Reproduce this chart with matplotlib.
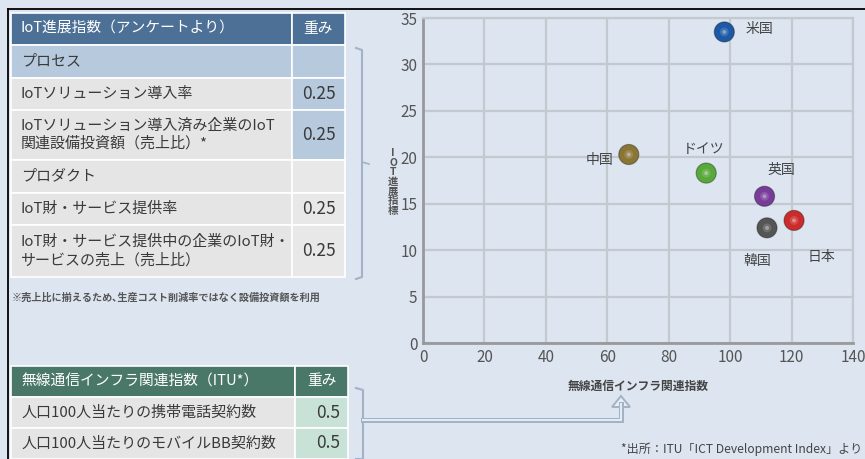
import matplotlib
matplotlib.use("Agg")
import matplotlib.pyplot as plt
from matplotlib.patches import Rectangle, Polygon

plt.rcParams["font.family"] = ["Noto Sans CJK JP", "DejaVu Sans"]

# ── data ────────────────────────────────────────────────────────────
countries = ["米国", "中国", "ドイツ", "英国", "韓国", "日本"]
infra_index = [98.1, 67.0, 92.2, 111.2, 112.0, 120.8]
iot_index = [33.5, 20.3, 18.3, 15.8, 12.4, 13.2]
dot_colors = ["#1d5aa6", "#8a7534", "#58a83a", "#773d98", "#555555", "#cc2b2b"]
# label offsets (points) from each dot
label_dx = [25, -21, -2, 12, -7, 20]
label_dy = [2, -4, 17, 19, -24, -26]

x_ticks = [0, 20, 40, 60, 80, 100, 120, 140]
y_ticks = [0, 5, 10, 15, 20, 25, 30, 35]

iot_header = ["IoT進展指数（アンケートより）", "重み"]
iot_rows = ["プロセス",
            "IoTソリューション導入率",
            "IoTソリューション導入済み企業のIoT\n関連設備投資額（売上比）*",
            "プロダクト",
            "IoT財・サービス提供率",
            "IoT財・サービス提供中の企業のIoT財・\nサービスの売上（売上比）"]
iot_weights = ["", "0.25", "0.25", "", "0.25", "0.25"]

itu_header = ["無線通信インフラ関連指数（ITU*）", "重み"]
itu_rows = ["人口100人当たりの携帯電話契約数",
            "人口100人当たりのモバイルBB契約数"]
itu_weights = ["0.5", "0.5"]

note = "※売上比に揃えるため､生産コスト削減率ではなく設備投資額を利用"
source = "*出所：ITU「ICT Development Index」より"

W, H = 865, 459
BG = "#dce5f0"
TXT = "#3a3a3a"
fig = plt.figure(figsize=(W / 100, H / 100), dpi=100, facecolor=BG)

# overlay in pixel coords for the tables / brackets
bg = fig.add_axes([0, 0, 1, 1])
bg.set_xlim(0, W)
bg.set_ylim(H, 0)
bg.axis("off")

# black frame
bg.plot([8, W], [9, 9], color="black", lw=1.3)
bg.plot([8, 8], [9, H], color="black", lw=1.3)


def cell(x0, x1, y0, y1, fc):
    bg.add_patch(Rectangle((x0, y0), x1 - x0, y1 - y0, facecolor=fc,
                           edgecolor="white", lw=1.2))


# ── IoT table ──
c0, c1, c2 = 11, 292, 345
row_y = [13, 45, 78, 110, 160, 193, 225, 277]
cell(c0, c1, row_y[0], row_y[1], "#4d7196")
cell(c1, c2, row_y[0], row_y[1], "#4d7196")
bg.text(c0 + 10, (row_y[0] + row_y[1]) / 2, iot_header[0], color="white",
        fontsize=10.6, va="center", ha="left")
bg.text((c1 + c2) / 2, (row_y[0] + row_y[1]) / 2, iot_header[1], color="white",
        fontsize=10.6, va="center", ha="center")
for i, (name, w) in enumerate(zip(iot_rows, iot_weights)):
    y0, y1 = row_y[i + 1], row_y[i + 2]
    if i < 3:
        name_fc = "#b6c9dd" if i == 0 else "#e5e5e5"
        w_fc = "#b6c9dd"
    else:
        name_fc = "#e5e5e5"
        w_fc = "#e8e8e8"
    cell(c0, c1, y0, y1, name_fc)
    cell(c1, c2, y0, y1, w_fc)
    bg.text(c0 + 10, (y0 + y1) / 2, name, color=TXT, fontsize=10.8,
            va="center", ha="left", linespacing=1.3)
    if w:
        bg.text(c2 - 9, (y0 + y1) / 2, w, color=TXT, fontsize=12.5,
                va="center", ha="right")

bg.text(12, 298, note, color="#555555", fontsize=7.3, va="center", ha="left",
        fontweight="bold")

# ── ITU table ──
d0, d1, d2 = 11, 295, 348
row2_y = [366, 397, 428, 459]
cell(d0, d1, row2_y[0], row2_y[1], "#4a7868")
cell(d1, d2, row2_y[0], row2_y[1], "#4a7868")
bg.text(d0 + 10, (row2_y[0] + row2_y[1]) / 2, itu_header[0], color="white",
        fontsize=10.6, va="center", ha="left")
bg.text((d1 + d2) / 2, (row2_y[0] + row2_y[1]) / 2, itu_header[1], color="white",
        fontsize=10.6, va="center", ha="center")
for i, (name, w) in enumerate(zip(itu_rows, itu_weights)):
    y0, y1 = row2_y[i + 1], row2_y[i + 2]
    cell(d0, d1, y0, y1, "#e5e5e5")
    cell(d1, d2, y0, y1, "#c9e2d8")
    bg.text(d0 + 10, (y0 + y1) / 2, name, color=TXT, fontsize=10.8,
            va="center", ha="left")
    bg.text(d2 - 8, (y0 + y1) / 2, w, color=TXT, fontsize=12.5,
            va="center", ha="right")

# ── brackets ──
BR = "#a3b2c6"
LT = "#e6edf5"
bg.plot([356, 362, 362, 356], [48, 50, 277, 279], color=BR, lw=1.5)
bg.plot([362, 369], [162, 164], color=BR, lw=1.2)
bg.plot([356, 363, 363, 356], [388, 390, 459, 459], color=BR, lw=1.5)
bg.plot([363, 621, 621], [420, 420, 404], color=BR, lw=3.6,
        solid_joinstyle="miter")
bg.plot([363, 621, 621], [420, 420, 404], color=LT, lw=1.4,
        solid_joinstyle="miter")
bg.add_patch(Polygon([(612, 407), (621, 396), (630, 407)], closed=True,
                     facecolor=LT, edgecolor=BR, lw=1.4))

# ── scatter ──
ax = fig.add_axes([423 / W, 1 - 343 / H, 430 / W, 325 / H])
ax.set_facecolor("none")
ax.set_xlim(0, 140)
ax.set_ylim(0, 35)
ax.set_xticks(x_ticks)
ax.set_yticks(y_ticks)
ax.grid(True, color="#c4c9cf", lw=1.6)
ax.tick_params(length=0, labelsize=11, labelcolor="#555555", pad=4)
for s in ("top", "right"):
    ax.spines[s].set_color("#c4c9cf")
    ax.spines[s].set_linewidth(1.6)
for s in ("left", "bottom"):
    ax.spines[s].set_color("#999999")
    ax.spines[s].set_linewidth(2)

# layered dots for a shaded-sphere look
ax.scatter(infra_index, iot_index, s=210, c=dot_colors, edgecolors="#00000055",
           linewidths=0.8, zorder=3)
ax.scatter(infra_index, iot_index, s=90, c=dot_colors, edgecolors="none",
           zorder=4)
ax.scatter(infra_index, iot_index, s=40, c="white", alpha=0.15,
           edgecolors="none", zorder=5)
ax.scatter(infra_index, iot_index, s=8, c="white", alpha=0.35,
           edgecolors="none", zorder=6)
for name, x, y, dx, dy in zip(countries, infra_index, iot_index, label_dx, label_dy):
    ax.annotate(name, (x, y), xytext=(dx, dy), textcoords="offset points",
                ha="center", va="center", fontsize=10, color="#444444")

ax.set_xlabel("無線通信インフラ関連指数", fontsize=8.5, color="#444444",
              fontweight="bold", labelpad=10)
bg.text(393, 182, "I\nO\nT\n進\n展\n指\n標", fontsize=7.5, color="#555555",
        ha="center", va="center", linespacing=0.95, fontweight="bold")

bg.text(862, 449, source, fontsize=8.7, color="#444444", ha="right", va="center")

fig.savefig("out.png", dpi=100, facecolor=BG)
